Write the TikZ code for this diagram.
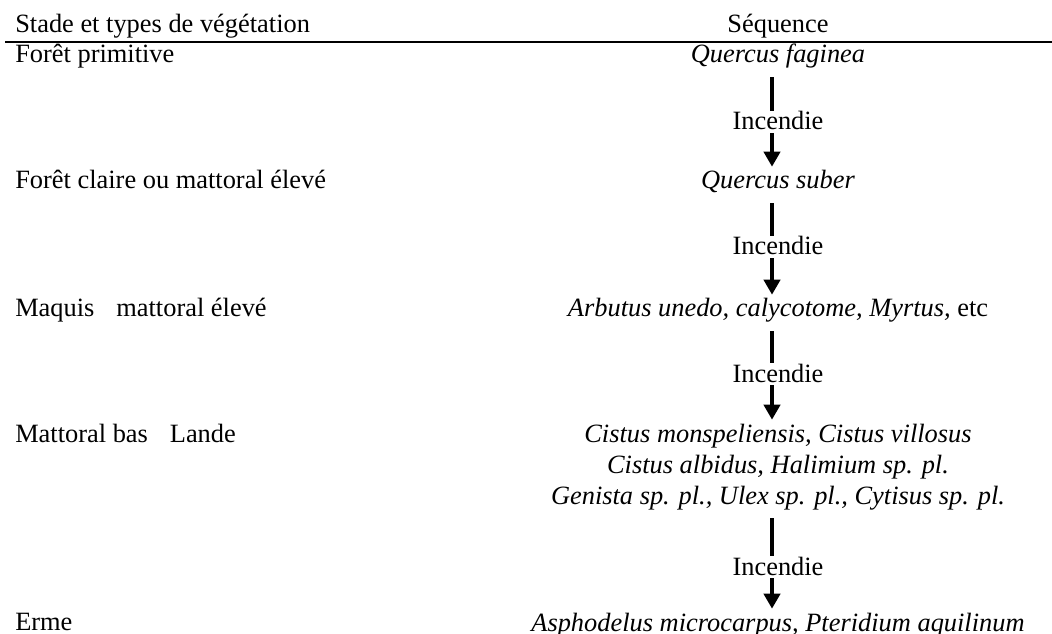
\documentclass[tikz,border=0pt]{standalone}
\usepackage{fontspec}
\setmainfont{Liberation Serif}
\usetikzlibrary{arrows.meta}
\begin{document}
\begin{tikzpicture}[x=0.75pt,y=-0.75pt,
  every node/.style={font=\fontsize{19.8}{23}\selectfont, inner sep=0pt},
  lbl/.style={anchor=base west},
  species/.style={anchor=base, font=\fontsize{19.8}{23}\selectfont\itshape, text height=16.5pt, text depth=10.5pt},
  incnode/.style={anchor=base, text height=14.25pt, text depth=2.25pt},
  seqline/.style={line width=3pt},
  seqarrow/.style={line width=3pt, -{Triangle[width=12pt,length=11.25pt]}},
  rulestyle/.style={line width=1.2pt}
]
\useasboundingbox (0,0) rectangle (1052,634);
\coordinate (ax) at (772,0);
% header
\node[lbl] (h1) at (15,33) {Stade et types de végétation};
\node[anchor=base] (h2) at (778,33) {Séquence};
\coordinate (ruleL) at (5,42);
\coordinate (ruleR) at (1052,42);
\draw[rulestyle] (ruleL) -- (ruleR);
% left labels
\node[lbl] (l1) at (15,63) {Forêt primitive};
\node[lbl] (l2) at (15,189) {Forêt claire ou mattoral élevé};
\node[lbl] (l3) at (15,317) {Maquis\hspace{11.5pt} mattoral élevé};
\node[lbl] (l4) at (15,442) {Mattoral bas\hspace{11.5pt} Lande};
\node[lbl] (l5) at (15,630) {Erme};
% sequence
\node[species] (s1) at (778,63) {Quercus faginea};
\node[species] (s2) at (778,189) {Quercus suber};
\node[species] (s3) at (778,317) {Arbutus unedo, calycotome, Myrtus,\upshape{} etc};
\node[species] (s4a) at (778,442) {Cistus monspeliensis, Cistus villosus};
\node[species] (s4b) at (778,473) {Cistus albidus, Halimium sp. pl.};
\node[species] (s4) at (778,504) {Genista sp. pl., Ulex sp. pl., Cytisus sp. pl.};
\node[species] (s5) at (778,631) {Asphodelus microcarpus, Pteridium aquilinum};
% Incendie labels
\node[incnode] (i1) at (778,130) {Incendie};
\node[incnode] (i2) at (778,255) {Incendie};
\node[incnode] (i3) at (778,382) {Incendie};
\node[incnode] (i4) at (778,575) {Incendie};
% connectors
\draw[seqline] (s1.south -| ax) -- (i1.north -| ax);
\draw[seqarrow] (i1.south -| ax) -- (s2.north -| ax);
\draw[seqline] (s2.south -| ax) -- (i2.north -| ax);
\draw[seqarrow] (i2.south -| ax) -- (s3.north -| ax);
\draw[seqline] (s3.south -| ax) -- (i3.north -| ax);
\draw[seqarrow] (i3.south -| ax) -- (s4a.north -| ax);
\draw[seqline] (s4.south -| ax) -- (i4.north -| ax);
\draw[seqarrow] (i4.south -| ax) -- (s5.north -| ax);
\end{tikzpicture}
\end{document}
